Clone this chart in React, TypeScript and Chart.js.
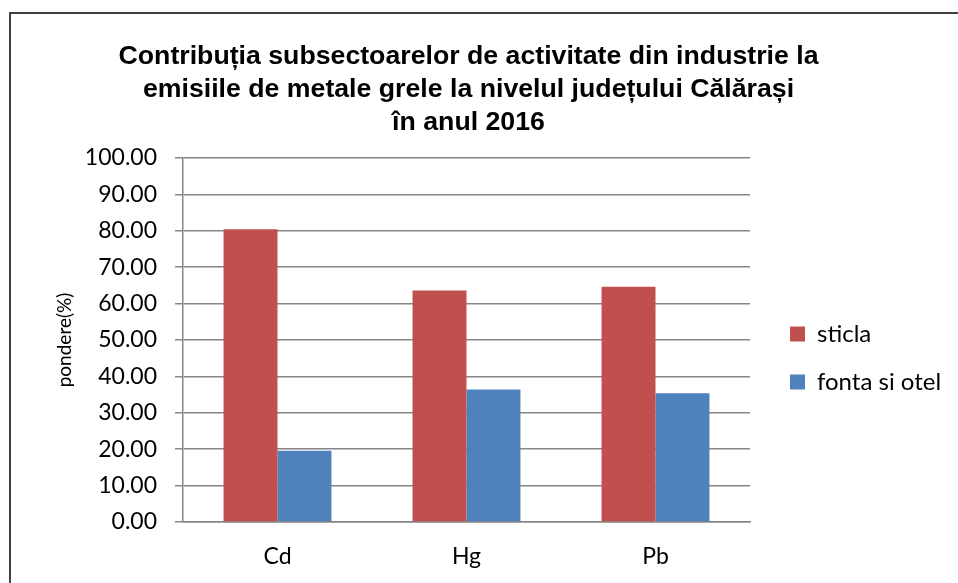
import React, { useEffect, useRef } from 'react';
import { Chart, registerables } from 'chart.js';

Chart.register(...registerables);

const categories = ['Cd', 'Hg', 'Pb'];
const seriesNames = ['sticla', 'fonta si otel'];
const sticlaValues = [80.4, 63.6, 64.6];
const fontaSiOtelValues = [19.6, 36.4, 35.4];
const seriesColors = ['#C0504D', '#4F81BD'];
const titleLines = [
  'Contribuția subsectoarelor de activitate din industrie la',
  'emisiile de metale grele la nivelul județului Călărași',
  'în anul 2016',
];
const yAxisTitle = 'pondere(%)';
const yMin = 0;
const yMax = 100;
const yStep = 10;

const W = 958;
const H = 583;
const BODY_FONT = 'Lato, "Open Sans", sans-serif';
const TITLE_FONT = '"Liberation Sans", Arial, sans-serif';
const GRID = '#868686';
const LEGEND_SIZE = 24;
const LEGEND_PAD = 24;
const LEGEND_BOX = 15;
const LEGEND_EXTRA = 10;
const PLOT_RIGHT = 750;
const PLOT_LEFT = 183;
const LEGEND_GAP = 16;
const TITLE_CENTER = 468.5;

export default function App() {
  const canvasRef = useRef<HTMLCanvasElement | null>(null);

  useEffect(() => {
    let chart: any = null;
    let cancelled = false;
    const fontsReady = (document as any).fonts
      ? Promise.all([
          (document as any).fonts.load(`${LEGEND_SIZE}px Lato`),
          (document as any).fonts.load(`bold 26px "Liberation Sans"`),
        ]).catch(() => null)
      : Promise.resolve(null);

    fontsReady.then(() => {
      if (cancelled || !canvasRef.current) return;
      const mctx = document.createElement('canvas').getContext('2d')!;
      mctx.font = `normal ${LEGEND_SIZE}px ${BODY_FONT}`;
      const textW = Math.max(...seriesNames.map((n) => mctx.measureText(n).width));
      const legendW = LEGEND_PAD + LEGEND_BOX + LEGEND_SIZE / 2 + textW + LEGEND_EXTRA;
      const padR = W - (PLOT_RIGHT + LEGEND_GAP + legendW);
      const padL = padR - (W - 2 * TITLE_CENTER);

      chart = new Chart(canvasRef.current, {
        type: 'bar',
        data: {
          labels: categories,
          datasets: [
            {
              label: seriesNames[0],
              data: sticlaValues,
              backgroundColor: seriesColors[0],
              borderWidth: 0,
              categoryPercentage: 0.571,
              barPercentage: 1,
            },
            {
              label: seriesNames[1],
              data: fontaSiOtelValues,
              backgroundColor: seriesColors[1],
              borderWidth: 0,
              categoryPercentage: 0.571,
              barPercentage: 1,
            },
          ],
        },
        options: {
          responsive: false,
          animation: false,
          layout: { padding: { left: padL, right: padR, top: 0, bottom: 0 } },
          plugins: {
            title: {
              display: true,
              text: titleLines,
              color: '#000',
              font: { family: TITLE_FONT, size: 26.7, weight: 'bold', lineHeight: 33 / 26.7 },
              padding: { top: 40, bottom: 19 },
            },
            legend: {
              position: 'right',
              fullSize: false,
              align: 'center',
              maxWidth: 400,
              title: { display: true, text: ' ', padding: 0, font: { size: 30, lineHeight: 1.2 } },
              labels: {
                boxWidth: LEGEND_BOX,
                boxHeight: LEGEND_BOX,
                padding: LEGEND_PAD,
                color: '#000',
                font: { family: BODY_FONT, size: LEGEND_SIZE },
              },
            },
            tooltip: { enabled: false },
          },
          scales: {
            x: {
              grid: { display: false, drawTicks: false, tickLength: 0 },
              border: { display: true, color: GRID, width: 1.5 },
              ticks: { color: '#000', font: { family: BODY_FONT, size: 23 }, padding: 21 },
              afterFit: (s: any) => { s.height = 61; },
            },
            y: {
              min: yMin,
              max: yMax,
              ticks: {
                stepSize: yStep,
                callback: (v: any) => Number(v).toFixed(2),
                color: '#000',
                font: { family: BODY_FONT, size: 23 },
                padding: 18,
              },
              grid: { color: GRID, lineWidth: 1.5, tickLength: 8, drawTicks: true },
              border: { display: true, color: GRID, width: 1.5 },
              title: {
                display: true,
                text: yAxisTitle,
                color: '#000',
                font: { family: BODY_FONT, size: 19 },
                padding: { top: Math.max(0, 65 - padL - 19 * 0.6), bottom: 0 },
              },
              afterFit: (s: any) => { s.width = PLOT_LEFT - padL; },
            },
            y2: {
              position: 'right',
              display: true,
              grid: { display: false, drawTicks: false },
              border: { display: false },
              ticks: { display: false },
              afterFit: (s: any) => { s.width = LEGEND_GAP; },
            },
          },
        },
      } as any);
    });

    return () => {
      cancelled = true;
      if (chart) chart.destroy();
    };
  }, []);

  return (
    <div style={{ position: 'fixed', left: 0, top: 0, width: W, height: H, overflow: 'hidden', background: '#fff' }}>
      <div
        style={{
          position: 'absolute',
          left: 9,
          top: 12,
          width: 1000,
          height: 1000,
          borderLeft: '2px solid #404040',
          borderTop: '2px solid #404040',
        }}
      />
      <canvas
        ref={canvasRef}
        width={W}
        height={H}
        style={{ position: 'absolute', left: 0, top: 0, width: W, height: H }}
      />
    </div>
  );
}
